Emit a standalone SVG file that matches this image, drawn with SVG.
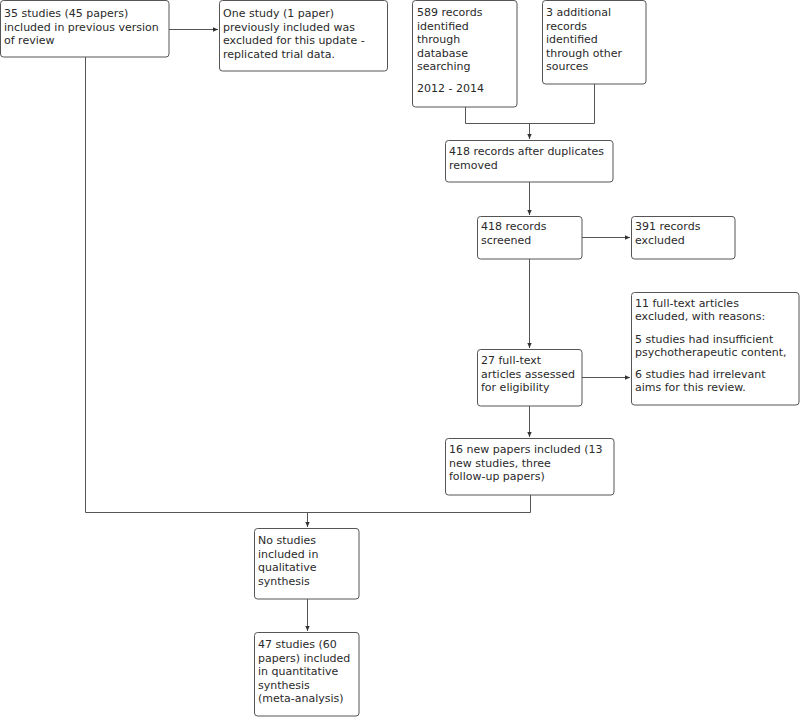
<svg xmlns="http://www.w3.org/2000/svg" width="800" height="717" viewBox="0 0 800 717">
<style>
.box{fill:#fff;stroke:#555;stroke-width:1}
text{font-family:"DejaVu Sans","Noto Sans",sans-serif;font-size:11px;fill:#2a2a2a}
.c{fill:none;stroke:#555;stroke-width:1}
</style>
<defs>
<marker id="ah" markerWidth="6" markerHeight="6" refX="5" refY="3" orient="auto" markerUnits="userSpaceOnUse">
<path d="M0,0.8 L5,3 L0,5.2 Z" fill="#333"/>
</marker>
</defs>
<rect width="800" height="717" fill="#fff"/>
<g id="connectors">
<path class="c" d="M169,29.5 H218" marker-end="url(#ah)"/>
<path class="c" d="M465.5,107 V123.5 H594.5 V84"/>
<path class="c" d="M529.5,123.5 V139" marker-end="url(#ah)"/>
<path class="c" d="M529.5,182 V215" marker-end="url(#ah)"/>
<path class="c" d="M582,237.5 H630" marker-end="url(#ah)"/>
<path class="c" d="M529.5,259 V348" marker-end="url(#ah)"/>
<path class="c" d="M582,377.5 H630" marker-end="url(#ah)"/>
<path class="c" d="M529.5,406 V437" marker-end="url(#ah)"/>
<path class="c" d="M85.5,57 V512.5 H530.5 V495"/>
<path class="c" d="M307.5,512.5 V527" marker-end="url(#ah)"/>
<path class="c" d="M307.5,599 V631" marker-end="url(#ah)"/>
</g>
<g id="n1"><rect class="box" x="0.5" y="0.5" width="168.5" height="56.5" rx="3"/>
<text x="4" y="17">35 studies (45 papers)</text><text x="4" y="30.5">included in previous version</text><text x="4" y="44">of review</text></g>
<g id="n2"><rect class="box" x="219.5" y="0.5" width="168" height="70.5" rx="3"/>
<text x="223" y="17">One study (1 paper)</text><text x="223" y="30.5">previously included was</text><text x="223" y="44">excluded for this update -</text><text x="223" y="57.5">replicated trial data.</text></g>
<g id="n3"><rect class="box" x="412.5" y="0.5" width="104.5" height="106.5" rx="3"/>
<text x="417" y="16">589 records</text><text x="417" y="29.5">identified</text><text x="417" y="43">through</text><text x="417" y="56.5">database</text><text x="417" y="70">searching</text><text x="417" y="92">2012 - 2014</text></g>
<g id="n4"><rect class="box" x="542.5" y="0.5" width="103.5" height="83.5" rx="3"/>
<text x="546" y="16">3 additional</text><text x="546" y="29.5">records</text><text x="546" y="43">identified</text><text x="546" y="56.5">through other</text><text x="546" y="70">sources</text></g>
<g id="n5"><rect class="box" x="445.5" y="140.5" width="167.5" height="41.5" rx="3"/>
<text x="449" y="155">418 records after duplicates</text><text x="449" y="168.5">removed</text></g>
<g id="n6"><rect class="box" x="477.5" y="216.5" width="104.5" height="42.5" rx="3"/>
<text x="481" y="230">418 records</text><text x="481" y="243.5">screened</text></g>
<g id="n7"><rect class="box" x="631.5" y="216.5" width="103.5" height="42.5" rx="3"/>
<text x="635" y="230">391 records</text><text x="635" y="243.5">excluded</text></g>
<g id="n8"><rect class="box" x="631.5" y="292.5" width="167.5" height="112.5" rx="3"/>
<text x="635" y="307">11 full-text articles</text><text x="635" y="320">excluded, with reasons:</text><text x="635" y="343">5 studies had insufficient</text><text x="635" y="356">psychotherapeutic content,</text><text x="635" y="378">6 studies had irrelevant</text><text x="635" y="391">aims for this review.</text></g>
<g id="n9"><rect class="box" x="477.5" y="349.5" width="104.5" height="56.5" rx="3"/>
<text x="481" y="364">27 full-text</text><text x="481" y="377.5">articles assessed</text><text x="481" y="391">for eligibility</text></g>
<g id="n10"><rect class="box" x="445.5" y="438.5" width="168.5" height="56.5" rx="3"/>
<text x="449" y="453">16 new papers included (13</text><text x="449" y="466.5">new studies, three</text><text x="449" y="480">follow-up papers)</text></g>
<g id="n11"><rect class="box" x="254.5" y="528.5" width="104.5" height="70.5" rx="3"/>
<text x="258" y="544">No studies</text><text x="258" y="557.5">included in</text><text x="258" y="571">qualitative</text><text x="258" y="584.5">synthesis</text></g>
<g id="n12"><rect class="box" x="254.5" y="632.5" width="104.5" height="83.5" rx="3"/>
<text x="258" y="648">47 studies (60</text><text x="258" y="661.5">papers) included</text><text x="258" y="675">in quantitative</text><text x="258" y="688.5">synthesis</text><text x="258" y="702">(meta-analysis)</text></g>
</svg>
